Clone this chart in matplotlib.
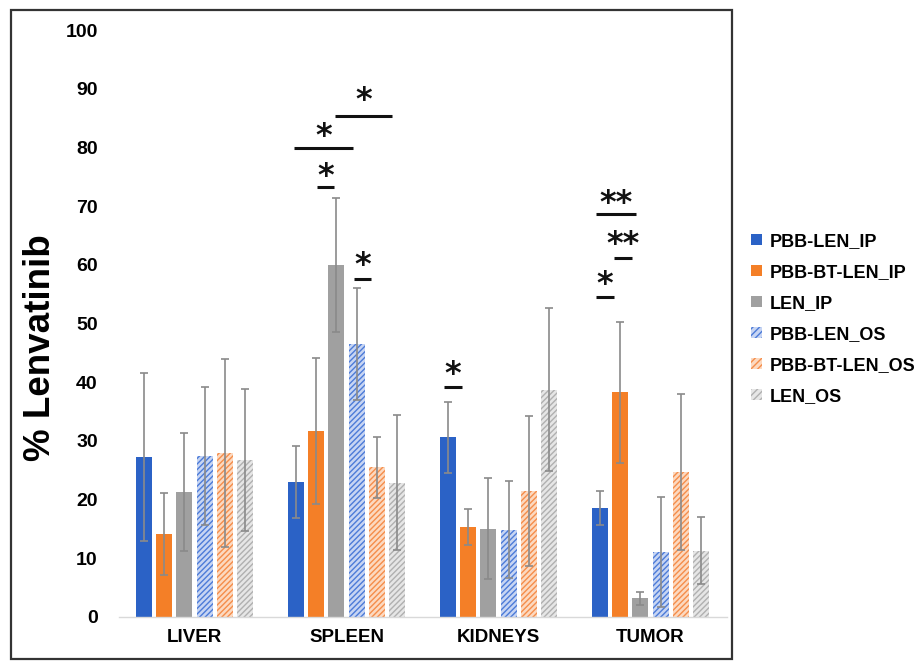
import numpy as np
import matplotlib
matplotlib.use("Agg")
import matplotlib.pyplot as plt
from matplotlib.patches import Patch, Rectangle

plt.rcParams['font.family'] = ['Liberation Sans', 'DejaVu Sans']
plt.rcParams['font.weight'] = 'bold'
plt.rcParams['hatch.linewidth'] = 1.0

# ---- data -------------------------------------------------------------
organs = ["LIVER", "SPLEEN", "KIDNEYS", "TUMOR"]
groups = ["PBB-LEN_IP", "PBB-BT-LEN_IP", "LEN_IP",
          "PBB-LEN_OS", "PBB-BT-LEN_OS", "LEN_OS"]

means = {
    "PBB-LEN_IP":    [27.2, 23.0, 30.6, 18.6],
    "PBB-BT-LEN_IP": [14.1, 31.7, 15.3, 38.3],
    "LEN_IP":        [21.3, 60.0, 15.0, 3.2],
    "PBB-LEN_OS":    [27.4, 46.5, 14.9, 11.1],
    "PBB-BT-LEN_OS": [27.9, 25.5, 21.5, 24.7],
    "LEN_OS":        [26.7, 22.9, 38.7, 11.3],
}
errors = {
    "PBB-LEN_IP":    [14.3, 6.2, 6.0, 2.9],
    "PBB-BT-LEN_IP": [7.0, 12.5, 3.1, 12.0],
    "LEN_IP":        [10.0, 11.4, 8.6, 1.1],
    "PBB-LEN_OS":    [11.7, 9.5, 8.2, 9.4],
    "PBB-BT-LEN_OS": [16.0, 5.2, 12.8, 13.3],
    "LEN_OS":        [12.1, 11.5, 13.9, 5.7],
}

# significance marks: (x0, x1, line height, label, label height)
sig_marks = [
    (0.924, 1.299, 85.3, "*", 88.0),
    (0.655, 1.043, 79.9, "*", 81.9),
    (0.806, 0.918, 73.3, "*", 75.1),
    (1.049, 1.161, 57.6, "*", 59.8),
    (1.641, 1.760, 39.2, "*", 41.3),
    (2.641, 2.905, 68.7, "**", 70.5),
    (2.760, 2.878, 61.2, "**", 63.5),
    (2.641, 2.760, 54.5, "*", 56.6),
]

# ---- styles -------------------------------------------------------------
styles = {
    "PBB-LEN_IP":    dict(fc="#2B62C6", hatch=None, hc=None),
    "PBB-BT-LEN_IP": dict(fc="#F47F27", hatch=None, hc=None),
    "LEN_IP":        dict(fc="#A0A0A0", hatch=None, hc=None),
    "PBB-LEN_OS":    dict(fc="#C7D5F3", hatch="//////", hc="#4C7BD8"),
    "PBB-BT-LEN_OS": dict(fc="#FCD9C0", hatch="//////", hc="#F58D4A"),
    "LEN_OS":        dict(fc="#E6E6E6", hatch="//////", hc="#B0B0B0"),
}

fig = plt.figure(figsize=(9.19, 6.61), dpi=100)
ax = fig.add_axes([0.129, 0.0666, 0.6616, 0.888])

x = np.arange(len(organs))
pitch = 0.1336
width = 0.105
for i, g in enumerate(groups):
    st = styles[g]
    pos = x + (i - 2.5) * pitch
    if st["hatch"]:
        ax.bar(pos, means[g], width, facecolor=st["fc"], edgecolor=st["hc"],
               hatch=st["hatch"], linewidth=0, zorder=2)
    else:
        ax.bar(pos, means[g], width, color=st["fc"], linewidth=0, zorder=2)
    ax.errorbar(pos, means[g], yerr=errors[g], fmt="none", ecolor="#8A8A8A",
                elinewidth=1.2, capsize=3, capthick=1.2, zorder=3)

for x0, x1, y, lab, ly in sig_marks:
    ax.plot([x0, x1], [y, y], color="#111111", lw=2.2, solid_capstyle="butt",
            zorder=4)
    ax.text((x0 + x1) / 2, ly, lab, ha="center", va="center", fontsize=23,
            family="DejaVu Sans", fontweight="bold", color="#111111")

ax.set_xlim(-0.5, 3.5)
ax.set_ylim(0, 100)
ax.set_yticks(np.arange(0, 101, 10))
ax.set_xticks(x)
ax.set_xticklabels(organs, fontsize=13.5, fontweight="bold")
ax.tick_params(axis="y", length=0, pad=15, labelsize=14)
ax.tick_params(axis="x", length=0, pad=9)
for s in ["top", "right", "left"]:
    ax.spines[s].set_visible(False)
ax.spines["bottom"].set_color("#D9D9D9")
ax.spines["bottom"].set_linewidth(1.0)

fig.text(0.044, 0.4735, "% Lenvatinib", rotation=90, ha="center", va="center",
         fontsize=26.5, fontweight="bold")

handles = []
for g in groups:
    st = styles[g]
    if st["hatch"]:
        handles.append(Patch(facecolor=st["fc"], edgecolor=st["hc"],
                             hatch="/////", linewidth=0))
    else:
        handles.append(Patch(facecolor=st["fc"], linewidth=0))
fig.legend(handles, groups, loc="upper left", bbox_to_anchor=(0.817, 0.648),
           frameon=False, fontsize=13, handlelength=0.6, handleheight=0.6,
           handletextpad=0.45, labelspacing=0.78, borderpad=0, borderaxespad=0)

fig.patches.append(Rectangle((0.012, 0.003), 0.7845, 0.982,
                             transform=fig.transFigure, fill=False,
                             edgecolor="#333333", linewidth=1.6))

fig.savefig("out.png", dpi=100)
